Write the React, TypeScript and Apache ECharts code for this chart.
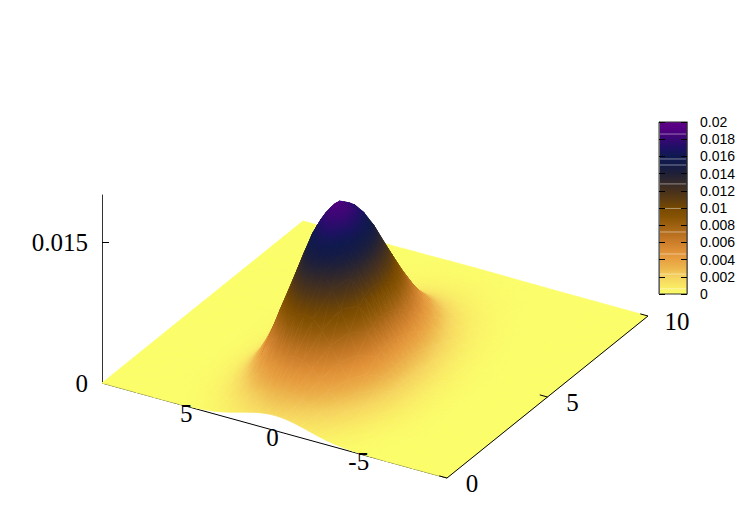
import React, { useEffect, useRef } from "react";
import * as echarts from "echarts";

// column positions along the x axis
const xs = [-10,-8,-7,-6.5,-6,-5.5,-5,-4.5,-4,-3.5,-3,-2.5,-2,-1.5,-1,-0.5,0,0.5,1,1.5,2,2.5,3,3.5,4,4.5,5,5.5,6,6.5,7,8,10];
// row positions along the y axis
const ys = [0,0.5,1,1.5,2,2.5,2.75,3,3.25,3.5,3.75,4,4.5,5,5.5,6,6.5,7,7.5,8,8.5,9,9.5,10];
// surface heights, in units of 1e-5; one row per y, one column per x
const zRows = [
[0,0,0,0,1,2,5,10,18,29,46,68,93,118,140,156,161,156,140,118,93,68,46,29,18,10,5,2,1,0,0,0,0],
[0,0,0,1,2,5,10,20,36,61,96,141,192,244,291,323,334,323,291,244,192,141,96,61,36,20,10,5,2,1,0,0,0],
[0,0,1,2,4,9,19,37,67,112,176,257,351,447,532,590,611,590,532,447,351,257,176,112,67,37,19,9,4,2,1,0,0],
[0,0,1,3,7,15,31,60,107,180,283,414,566,720,857,951,984,951,857,720,566,414,283,180,107,60,31,15,7,3,1,0,0],
[0,0,2,4,9,21,44,84,152,255,401,586,800,1019,1212,1345,1392,1345,1212,1040,840,586,401,255,152,84,44,21,9,4,2,0,0],
[0,0,2,5,12,26,54,105,189,317,499,729,996,1268,1509,1673,1732,1640,1465,1245,996,729,499,317,189,105,54,26,12,5,2,0,0],
[0,0,2,5,13,28,57,111,200,335,527,770,1052,1339,1595,1765,1830,1750,1570,1335,1050,770,527,335,200,111,57,28,13,5,2,0,0],
[0,0,2,5,13,29,59,115,207,347,546,798,1090,1387,1651,1831,1895,1778,1620,1370,1090,798,546,347,207,115,59,29,13,5,2,0,0],
[0,0,2,5,13,29,59,115,206,345,542,793,1083,1378,1640,1818,1880,1790,1620,1375,1083,793,542,345,206,115,59,29,13,5,2,0,0],
[0,0,2,5,13,28,58,113,203,341,536,784,1071,1363,1622,1785,1828,1790,1622,1363,1071,784,536,341,203,113,58,28,13,5,2,0,0],
[0,0,2,5,13,27,56,109,196,328,516,755,1030,1312,1560,1720,1773,1730,1560,1312,1030,755,516,328,196,109,56,27,13,5,2,0,0],
[0,0,2,5,12,26,54,104,187,314,494,723,987,1257,1496,1659,1710,1659,1496,1257,987,723,494,314,187,104,54,26,12,5,2,0,0],
[0,0,2,4,10,22,47,90,162,272,428,626,855,1088,1295,1436,1487,1436,1295,1088,855,626,428,272,162,90,47,22,10,4,2,0,0],
[0,0,1,4,8,18,38,73,132,221,348,509,696,886,1054,1169,1210,1169,1054,886,696,509,348,221,132,73,38,18,8,4,1,0,0],
[0,0,1,3,6,14,29,56,101,169,266,389,532,677,806,894,925,894,806,677,532,389,266,169,101,56,29,14,6,3,1,0,0],
[0,0,1,2,5,10,21,40,72,122,191,280,382,486,578,641,664,641,578,486,382,280,191,122,72,40,21,10,5,2,1,0,0],
[0,0,0,1,3,7,14,27,49,82,129,189,258,328,390,433,448,433,390,328,258,189,129,82,49,27,14,7,3,1,0,0,0],
[0,0,0,1,2,4,9,17,31,52,82,120,163,208,247,274,284,274,247,208,163,120,82,52,31,17,9,4,2,1,0,0,0],
[0,0,0,0,1,3,5,10,18,31,49,71,97,124,147,163,169,163,147,124,97,71,49,31,18,10,5,3,1,0,0,0,0],
[0,0,0,0,1,1,3,6,10,17,27,40,55,70,83,92,95,92,83,70,55,40,27,17,10,6,3,1,1,0,0,0,0],
[0,0,0,0,0,1,2,3,5,9,14,21,29,37,44,48,50,48,44,37,29,21,14,9,5,3,2,1,0,0,0,0,0],
[0,0,0,0,0,0,1,1,3,4,7,10,14,18,21,23,24,23,21,18,14,10,7,4,3,1,1,0,0,0,0,0,0],
[0,0,0,0,0,0,0,1,1,2,3,5,6,8,10,11,11,11,10,8,6,5,3,2,1,1,0,0,0,0,0,0,0],
[0,0,0,0,0,0,0,0,1,1,1,2,3,4,4,5,5,5,4,4,3,2,1,1,1,0,0,0,0,0,0,0,0],
];
const xTicks = [5, 0, -5];
const yTicks = [0, 5, 10];
const zTicks = [0, 0.015];
const xRange = [-10, 10];
const yRange = [0, 10];
const zRange = [0, 0.02];
// stretches of the front x edge that stay visible over the flat surface
const xEdgeVisible = [[10, 7.33], [-7.39, -10]];
// surface palette: value, colour
const paletteValues = [0,0.001,0.002,0.003,0.004,0.005,0.006,0.007,0.008,0.009,0.01,0.011,0.012,0.013,0.014,0.015,0.016,0.017,0.018,0.019,0.02];
const paletteColors = ["#fbfd69","#f9e763","#f5d25e","#edb64c","#e8a040","#df9036","#cc7e2a","#b76f1e","#9c6010","#865303","#764800","#5c3c10","#47311d","#33292a","#1f2038","#131a46","#0f194f","#1e1066","#380872","#50007f","#600088"];
// pale seams visible in the colour bar
const cbSeams = [0.0186,0.0157,0.015,0.0128,0.00995,0.00721,0.00465,0.00232,0.0006];

const hex = (c: string) => [1, 3, 5].map((i) => parseInt(c.slice(i, i + 2), 16));
const paletteRgb = paletteColors.map(hex);
function colorOf(v: number) {
  const n = paletteValues.length - 1;
  const t = Math.max(0, Math.min(1, v / 0.02)) * n;
  const i = Math.min(n - 1, Math.floor(t));
  const f = t - i;
  const a = paletteRgb[i], b = paletteRgb[i + 1];
  return `rgb(${a.map((c, k) => Math.round(c + (b[k] - c) * f)).join(",")})`;
}

// oblique projection
function project(x: number, y: number, z: number) {
  return [274.5 - 17.25 * x + 20.1 * y, 430.5 - 4.75 * x - 16.2 * y - 9400 * z];
}

function triangleFill(p: number[][], v: number[]) {
  const min = Math.min(...v), max = Math.max(...v);
  const det = (p[1][0]-p[0][0])*(p[2][1]-p[0][1]) - (p[2][0]-p[0][0])*(p[1][1]-p[0][1]);
  if (max - min < 1.5e-5 || Math.abs(det) < 0.05) return colorOf((v[0]+v[1]+v[2])/3);
  const gx = ((v[1]-v[0])*(p[2][1]-p[0][1]) - (v[2]-v[0])*(p[1][1]-p[0][1])) / det;
  const gy = ((v[2]-v[0])*(p[1][0]-p[0][0]) - (v[1]-v[0])*(p[2][0]-p[0][0])) / det;
  const g2 = gx*gx + gy*gy;
  const start = p[v.indexOf(min)];
  const k = (max - min) / g2;
  const steps = Math.max(1, Math.ceil((max - min) / 0.001));
  const stops = [];
  for (let i = 0; i <= steps; i++) stops.push({ offset: i / steps, color: colorOf(min + (max - min) * i / steps) });
  return new echarts.graphic.LinearGradient(start[0], start[1], start[0] + gx*k, start[1] + gy*k, stops, true);
}

const serif = '"Liberation Serif", serif';
const sans = '"Liberation Sans", sans-serif';

export default function App() {
  const ref = useRef<HTMLDivElement>(null);
  useEffect(() => {
    const chart = echarts.init(ref.current!, undefined, { renderer: "svg" });
    const triangles: number[][] = [];
    for (let j = ys.length - 2; j >= 0; j--)
      for (let i = xs.length - 2; i >= 0; i--) { triangles.push([i, j, 0]); triangles.push([i, j, 1]); }

    const pxAxis = (g: number) => ({ gridIndex: g, type: "value", show: false, min: 0, max: 1 });
    const option: any = {
      animation: false,
      backgroundColor: "#fff",
      grid: [
        { left: 0, top: 0, width: 750, height: 525 },
        { left: 102, top: 195, width: 10, height: 188 },
        { left: 659, top: 122, width: 28, height: 172 },
      ],
      xAxis: [
        { gridIndex: 0, type: "value", show: false, min: 0, max: 750 },
        pxAxis(1),
        pxAxis(2),
      ],
      yAxis: [
        { gridIndex: 0, type: "value", show: false, min: 0, max: 525, inverse: true },
        {
          gridIndex: 1, type: "value", min: zRange[0], max: zRange[1], position: "left", splitLine: { show: false },
          axisLine: { show: true, onZero: false, lineStyle: { color: "#333", width: 1 } },
          axisTick: { show: true, inside: true, length: 7, customValues: zTicks, lineStyle: { color: "#000" } },
          axisLabel: { show: true, customValues: zTicks, color: "#000", fontFamily: serif, fontSize: 25, margin: 14 },
        },
        {
          gridIndex: 2, type: "value", min: 0, max: 0.02, interval: 0.002, position: "right", z: 5, splitLine: { show: false },
          axisLine: { show: true, onZero: false, lineStyle: { color: "#666" } },
          axisTick: { show: true, inside: true, length: 6, lineStyle: { color: "#000" } },
          axisLabel: { show: true, color: "#000", fontFamily: sans, fontSize: 14, margin: 13 },
        },
        {
          gridIndex: 2, type: "value", min: 0, max: 0.02, interval: 0.002, position: "left", z: 5, splitLine: { show: false },
          axisLine: { show: true, onZero: false, lineStyle: { color: "#666" } },
          axisTick: { show: true, inside: true, length: 6, lineStyle: { color: "#000" } },
          axisLabel: { show: false },
        },
      ],
      series: [
        {
          // front x axis line, under the surface
          type: "custom", xAxisIndex: 0, yAxisIndex: 0, z: 1, clip: false, silent: true,
          data: [[xRange[1], xRange[0]]],
          renderItem: (_: any, api: any) => {
            const a = api.coord(project(api.value(0), yRange[0], 0)), b = api.coord(project(api.value(1), yRange[0], 0));
            return { type: "line", shape: { x1: a[0], y1: a[1], x2: b[0], y2: b[1] }, style: { stroke: "#000", lineWidth: 1 } };
          },
        },
        {
          // pm3d surface
          type: "custom", xAxisIndex: 0, yAxisIndex: 0, z: 2, clip: false, silent: true, progressive: 0,
          data: triangles,
          renderItem: (_: any, api: any) => {
            const i = api.value(0), j = api.value(1), part = api.value(2);
            const corners = part === 0
              ? [[i + 1, j + 1], [i, j + 1], [i + 1, j]]
              : [[i, j], [i, j + 1], [i + 1, j]];
            const vals = corners.map(([a, b]) => zRows[b][a] * 1e-5);
            const pts = corners.map(([a, b], k) => api.coord(project(xs[a], ys[b], vals[k])));
            const fill = triangleFill(pts, vals);
            return { type: "polygon", shape: { points: pts }, style: { fill, stroke: fill, lineWidth: 0.7 } };
          },
        },
        {
          // edges and y ticks over the surface, and tick labels
          type: "custom", xAxisIndex: 0, yAxisIndex: 0, z: 3, clip: false, silent: true,
          data: [
            [3, 0],
            ...xEdgeVisible.map((s) => [4, s[0], s[1]]),
            ...yTicks.map((t) => [0, t]),
            ...xTicks.map((t) => [1, t]),
            ...yTicks.map((t) => [2, t]),
          ],
          renderItem: (_: any, api: any) => {
            const kind = api.value(0), t = api.value(1);
            const seg = (a: number[], b: number[]) => ({ type: "line", shape: { x1: a[0], y1: a[1], x2: b[0], y2: b[1] }, style: { stroke: "#000", lineWidth: 1 } });
            if (kind === 3) return seg(api.coord(project(xRange[0], yRange[0], 0)), api.coord(project(xRange[0], yRange[1], 0)));
            if (kind === 4) return seg(api.coord(project(t, yRange[0], 0)), api.coord(project(api.value(2), yRange[0], 0)));
            if (kind === 0) return seg(api.coord(project(xRange[0], t, 0)), api.coord(project(xRange[0] + 0.45, t, 0)));
            const base = kind === 1 ? api.coord(project(t, yRange[0], 0)) : api.coord(project(xRange[0], t, 0));
            const px = kind === 1 ? base[0] - 2 : base[0] + (t === 10 ? 29 : 25);
            const py = kind === 1 ? base[1] + 7 : base[1] + 5;
            return { type: "text", x: px, y: py, style: { text: String(t), fill: "#000", font: `25px ${serif}`, align: "center", verticalAlign: "middle" } };
          },
        },
        {
          // colour bar
          type: "custom", xAxisIndex: 2, yAxisIndex: 2, z: 2, clip: false, silent: true,
          data: [[0, 0], ...cbSeams.map((s) => [1, s])],
          renderItem: (_: any, api: any) => {
            const a = api.coord([0, 0]), b = api.coord([1, 0.02]);
            if (api.value(0) === 0) {
              const stops = paletteValues.map((v, i) => ({ offset: v / 0.02, color: paletteColors[i] }));
              return {
                type: "rect", shape: { x: a[0], y: b[1], width: b[0] - a[0], height: a[1] - b[1] },
                style: { fill: new echarts.graphic.LinearGradient(0, 1, 0, 0, stops), stroke: "#333", lineWidth: 1 },
              };
            }
            const y = api.coord([0, api.value(1)])[1];
            return { type: "line", shape: { x1: a[0] + 1, y1: y, x2: b[0] - 1, y2: y }, style: { stroke: "rgba(255,255,255,0.45)", lineWidth: 1 } };
          },
        },
      ],
    };
    chart.setOption(option);
    return () => chart.dispose();
  }, []);
  return <div ref={ref} style={{ position: "fixed", left: 0, top: 0, width: 750, height: 525 }} />;
}
